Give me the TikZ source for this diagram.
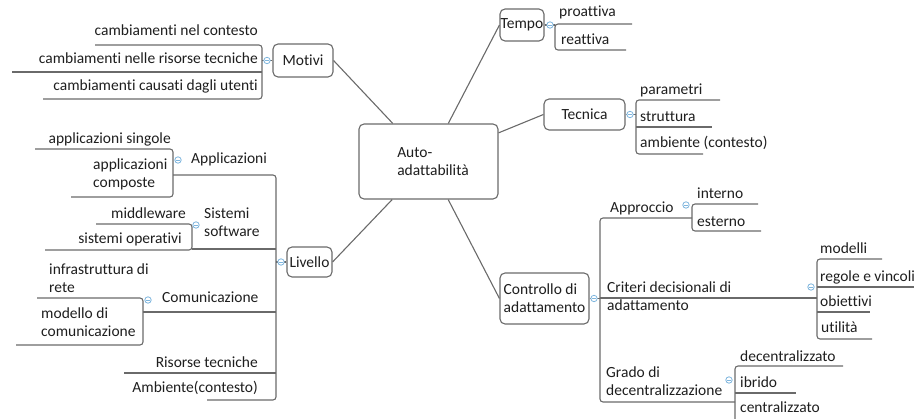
\documentclass[tikz,border=0pt]{standalone}
\usepackage{fontspec}
\setmainfont{Carlito}[Ligatures=NoCommon]
\definecolor{lineg}{HTML}{6A6A6A}
\definecolor{inkc}{HTML}{1E1E1E}
\definecolor{foldc}{HTML}{7FB6DE}
% two stacked lines, baseline of the first line
\newcommand\twoline[2]{\vtop{\hbox{#1}\hbox{#2}}}
\begin{document}
\begin{tikzpicture}[x=1pt,y=-1pt,
  font=\fontsize{15.5}{18}\selectfont,
  every node/.style={text=inkc, inner sep=0pt},
  box/.style={draw=lineg, line width=1.1pt, rounded corners=5pt, fill=white, inner sep=0pt},
  link/.style={draw=lineg, line width=1.1pt},
  tree/.style={draw=lineg, line width=1.1pt, rounded corners=3pt},
  lt/.style={anchor=base east},
  rt/.style={anchor=base west},
  foldmark/.pic={
    \draw[draw=foldc, fill=white, line width=0.8pt] (0,0) circle (3.2pt);
    \draw[foldc, line width=0.8pt] (-1.6pt,0) -- (1.6pt,0);
  }]
\useasboundingbox (0,0) rectangle (914,419);

% main topic and the five branches
\node[box, minimum width=139pt, minimum height=75pt] (c) at (428.5,161.5) {\hspace*{9pt}\twoline{Auto-}{adattabilità}};
\node[box, minimum width=60pt, minimum height=33pt] (m) at (303,60.5) {Motivi};
\node[box, minimum width=44pt, minimum height=32pt] (t) at (522,25) {Tempo};
\node[box, minimum width=81pt, minimum height=31pt] (tc) at (584.5,114.5) {Tecnica};
\node[box, minimum width=45pt, minimum height=30pt] (l) at (309.5,262) {Livello};
\node[box, minimum width=89pt, minimum height=51pt] (k) at (544.5,298.5) {\twoline{Controllo di}{adattamento}};

\draw[link] (m.east) -- (c);
\draw[link] (t.west) -- (c);
\draw[link] (tc.west) -- (c);
\draw[link] (l.east) -- (c);
\draw[link] (k.west) -- (c);

% Motivi
\coordinate (mb) at (262,60.5);
\draw[link] (m.west) -- (mb);
\draw[tree] (95,45) -- (262,45) -- (262,99) -- (43,99);
\draw[tree] (12,72) -- (262,72);
\node[lt] (m1) at (258,36) {cambiamenti nel contesto};
\node[lt] (m2) at (258,64) {cambiamenti nelle risorse tecniche};
\node[lt] (m3) at (258,91) {cambiamenti causati dagli utenti};
\pic at (267,60.5) {foldmark};

% Tempo
\coordinate (tb) at (555,25);
\draw[link] (t.east) -- (tb);
\draw[tree] (632,24) -- (555,24) -- (555,50) -- (626,50);
\node[rt] (t1) at (559,17) {proattiva};
\node[rt] (t2) at (561,45) {reattiva};
\pic at (550,25) {foldmark};

% Tecnica
\coordinate (tcb) at (636,114.5);
\draw[link] (tc.east) -- (tcb);
\draw[tree] (720,100) -- (636,100) -- (636,154) -- (703,154);
\draw[tree] (636,127) -- (712,127);
\node[rt] (tc1) at (640,95) {parametri};
\node[rt] (tc2) at (640,122) {struttura};
\node[rt] (tc3) at (640,148) {ambiente (contesto)};
\pic at (630,114.5) {foldmark};

% Livello
\coordinate (lb) at (276,262);
\draw[link] (l.west) -- (lb);
\draw[tree] (173,175) -- (276,175) -- (276,400) -- (207,400);
\draw[tree] (192,249) -- (276,249);
\draw[tree] (143,312) -- (276,312);
\draw[tree] (124,373) -- (276,373);
\pic at (281,262) {foldmark};
\node[rt] (l1) at (191,164) {Applicazioni};
\node[rt] (l2) at (204,219) {\twoline{Sistemi}{software}};
\node[rt] (l3) at (162,303) {Comunicazione};
\node[lt] (l4) at (258,368) {Risorse tecniche};
\node[lt] (l5) at (258,393) {Ambiente(contesto)};

% Applicazioni
\draw[tree] (35,149) -- (173,149) -- (173,197) -- (71,197);
\pic at (178,160) {foldmark};
\node[lt] (a1) at (171,144) {applicazioni singole};
\node[rt] (a2) at (93,170) {\twoline{applicazioni}{composte}};

% Sistemi software
\draw[tree] (96,224) -- (192,224) -- (192,250) -- (45,250);
\pic at (196,225) {foldmark};
\node[lt] (s1) at (186,219) {middleware};
\node[lt] (s2) at (182,244) {sistemi operativi};

% Comunicazione
\draw[tree] (37,298) -- (143,298) -- (143,345) -- (16,345);
\pic at (148,300) {foldmark};
\node[rt] (co1) at (49,275) {\twoline{infrastruttura di}{rete}};
\node[rt] (co2) at (41,319) {\twoline{modello di}{comunicazione}};

% Controllo di adattamento
\coordinate (kb) at (600,298.5);
\draw[link] (k.east) -- (kb);
\draw[tree] (692,218) -- (600,218) -- (600,402) -- (735,402);
\draw[tree] (600,298) -- (817,298);
\pic at (594,298.5) {foldmark};
\node[rt] (k1) at (610,213) {Approccio};
\node[rt] (k2) at (607,293) {\twoline{Criteri decisionali di}{adattamento}};
\node[rt] (k3) at (606,378) {\twoline{Grado di}{decentralizzazione}};

% Approccio
\draw[tree] (758,204) -- (692,204) -- (692,231) -- (761,231);
\pic at (686,205) {foldmark};
\node[rt] (ap1) at (697,199) {interno};
\node[rt] (ap2) at (697,227) {esterno};

% Criteri decisionali
\draw[tree] (882,259) -- (817,259) -- (817,339) -- (872,339);
\draw[tree] (817,287) -- (914,287);
\draw[tree] (817,312) -- (870,312);
\pic at (811,287) {foldmark};
\node[rt] (cr1) at (820,254) {modelli};
\node[rt] (cr2) at (820,282) {regole e vincoli};
\node[rt] (cr3) at (820,307) {obiettivi};
\node[rt] (cr4) at (821,333) {utilità};

% Grado di decentralizzazione
\draw[tree] (843,366) -- (735,366) -- (735,430);
\draw[tree] (735,393) -- (796,393);
\pic at (729,380) {foldmark};
\node[rt] (g1) at (740,362) {decentralizzato};
\node[rt] (g2) at (740,388) {ibrido};
\node[rt] (g3) at (740,413) {centralizzato};
\end{tikzpicture}
\end{document}
